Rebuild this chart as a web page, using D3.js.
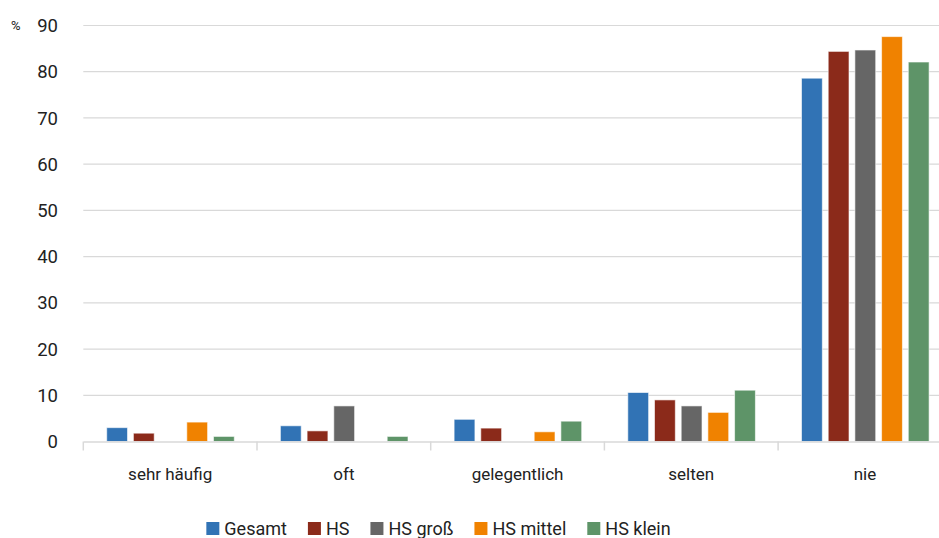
<!DOCTYPE html>
<html><head><meta charset="utf-8">
<script src="https://cdn.jsdelivr.net/npm/d3@7"></script>
<style>body{margin:0;background:#fff}svg{display:block}text{font-family:Roboto,"Open Sans",sans-serif;fill:#222}</style>
</head><body><svg id="c" width="939" height="538"></svg>
<script>
const categories = ["sehr häufig","oft","gelegentlich","selten","nie"];
const seriesNames = ["Gesamt","HS","HS groß","HS mittel","HS klein"];
const seriesColors = ["#3173b5","#8b2a1a","#666666","#f08200","#5e9468"];
const Gesamt   = [3.0, 3.4, 4.8, 10.6, 78.6];
const HS       = [1.8, 2.3, 2.9, 9.0, 84.4];
const HSgross  = [0, 7.7, 0, 7.7, 84.7];
const HSmittel = [4.2, 0, 2.1, 6.3, 87.6];
const HSklein  = [1.1, 1.1, 4.4, 11.1, 82.1];
const seriesValues = [Gesamt, HS, HSgross, HSmittel, HSklein];
const yTicks = [0,10,20,30,40,50,60,70,80,90];

const svg = d3.select("#c");
const left = 83.3, right = 951.8, y0 = 441.5, yTop = 25.5;
const x = d3.scaleBand().domain(categories).range([left,right]).paddingInner(0).paddingOuter(0);
const xs = d3.scaleBand().domain(seriesNames).range([23.4, 151]).paddingInner(0.22).paddingOuter(0);
const y = d3.scaleLinear().domain([0,90]).range([y0,yTop]);

// grid
svg.append("g").selectAll("line").data(yTicks.filter(d=>d>0)).join("line")
  .attr("x1",left).attr("x2",939).attr("y1",d=>y(d)).attr("y2",d=>y(d))
  .attr("stroke","#d9d9d9").attr("stroke-width",1.2);

// y labels
svg.append("g").selectAll("text").data(yTicks).join("text")
  .attr("x",58).attr("y",d=>y(d)).attr("dy","0.36em").attr("text-anchor","end")
  .style("font-size","18.5px").text(d=>d);
svg.append("text").attr("x",11).attr("y",y(90)).attr("dy","0.36em").style("font-size","13px").text("%");

// bars
const data = [];
categories.forEach((c,i)=>seriesNames.forEach((s,j)=>data.push({c,s,v:seriesValues[j][i],col:seriesColors[j]})));
svg.append("g").selectAll("rect").data(data.filter(d=>d.v>0)).join("rect")
  .attr("x",d=>x(d.c)+xs(d.s)).attr("width",xs.bandwidth())
  .attr("y",d=>y(d.v)).attr("height",d=>y0-y(d.v))
  .attr("fill",d=>d.col).attr("stroke","#fff").attr("stroke-opacity",0.6).attr("stroke-width",1);

// x axis
const xAxis = svg.append("g").attr("transform",`translate(0,${y0})`)
  .call(d3.axisBottom(x).tickSize(0).tickPadding(26));
xAxis.select(".domain").attr("stroke","#d9d9d9").attr("stroke-width",1.5);
xAxis.selectAll("text").style("font-size","17px").style("font-family","Roboto,sans-serif").attr("fill","#222");
svg.append("g").selectAll("line").data(categories.map(c=>x(c))).join("line")
  .attr("x1",d=>d).attr("x2",d=>d).attr("y1",y0).attr("y2",y0+9)
  .attr("stroke","#d9d9d9").attr("stroke-width",1.5);

// legend
const lg = svg.append("g");
let lx = 0;
const gap = 21;
seriesNames.forEach((n,i)=>{
  const g = lg.append("g");
  g.append("rect").attr("width",13).attr("height",13).attr("y",-13).attr("fill",seriesColors[i]);
  const t = g.append("text").attr("x",18).attr("y",0).style("font-size","18px").text(n);
  const w = 18 + t.node().getComputedTextLength();
  g.attr("transform",`translate(${lx},0)`);
  lx += w + gap;
});
const totalW = lx - gap;
lg.attr("transform",`translate(${438.5 - totalW/2},535)`);
</script></body></html>
